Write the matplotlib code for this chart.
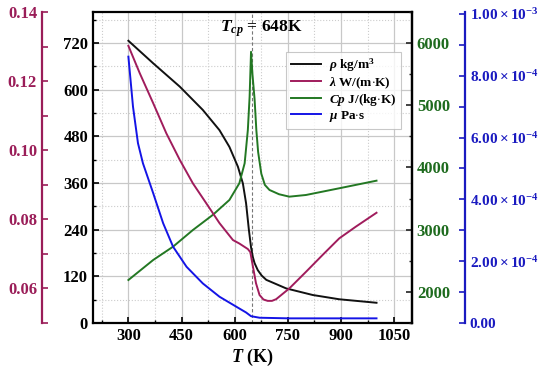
import math
import matplotlib
matplotlib.use("Agg")
import matplotlib.pyplot as plt
from matplotlib.ticker import MultipleLocator, FuncFormatter, FormatStrFormatter

plt.rcParams['font.family'] = ['Liberation Serif', 'DejaVu Serif']
plt.rcParams['font.weight'] = 'bold'
plt.rcParams['mathtext.fontset'] = 'custom'
plt.rcParams['mathtext.rm'] = 'Liberation Serif:bold'
plt.rcParams['mathtext.it'] = 'Liberation Serif:italic:bold'
plt.rcParams['mathtext.bf'] = 'Liberation Serif:bold'

# ---- data ----
T_rho = [300, 370, 445, 510, 557, 585, 609, 623, 632, 640, 646, 651, 656, 665, 676, 689, 745, 820, 895, 1000]
rho = [726, 668, 608, 548, 496, 453, 402, 359, 308, 239, 195, 170, 154, 136, 122, 111, 89, 72, 61, 52]

T_lam = [300, 332, 370, 407, 445, 482, 520, 557, 595, 613, 637, 644, 651, 660, 670, 681, 693, 705, 717,
         754, 801, 848, 895, 942, 1000]
lam = [0.1302, 0.1223, 0.1136, 0.1049, 0.0972, 0.0904, 0.0846, 0.0789, 0.0740, 0.0730, 0.0714,
       0.0705, 0.0665, 0.0615, 0.0581, 0.0568, 0.0564, 0.0564, 0.0569, 0.0600, 0.0648, 0.0697,
       0.0745, 0.0779, 0.0819]

T_cp = [300, 370, 426, 482, 538, 585, 613, 628, 637, 642, 646, 650, 656, 661, 666, 675, 685, 698,
        725, 754, 801, 895, 1000]
Cp = [2191, 2513, 2727, 2995, 3237, 3478, 3746, 4068, 4603, 5139, 5860, 5500, 5100, 4600, 4250,
      3900, 3720, 3639, 3570, 3531, 3558, 3666, 3788]

T_mu = [300, 313, 327, 341, 370, 398, 426, 464, 510, 557, 604, 632, 646, 670, 754, 1000]
mu = [8.62e-4, 7.0e-4, 5.82e-4, 5.17e-4, 4.2e-4, 3.23e-4, 2.47e-4, 1.82e-4, 1.28e-4, 0.85e-4,
      0.53e-4, 0.34e-4, 0.22e-4, 0.17e-4, 0.15e-4, 0.15e-4]

T_cp_crit = 648
labels = [r'$\rho$ kg/m$^3$', r'$\lambda$ W/(m$\cdot$K)', r'$Cp$ J/(kg$\cdot$K)', r'$\mu$ Pa$\cdot$s']

c_rho = '#111111'
c_lam = '#A01C5C'
c_cp = '#237823'
c_mu = '#1414E6'
c_lam_t = '#9A1D58'
c_cp_t = '#1E6B1E'
c_mu_t = '#1A1AC0'

fig = plt.figure(figsize=(5.5, 3.75), dpi=100)
ax = fig.add_axes([0.169, 0.1387, 0.58, 0.8293])
ax_cp = ax.twinx()
ax_lam = ax.twinx()
ax_mu = ax.twinx()

# main axes (rho)
ax.set_xlim(200, 1100)
ax.set_ylim(0, 800)
ax.xaxis.set_major_locator(MultipleLocator(150))
ax.xaxis.set_minor_locator(MultipleLocator(75))
ax.yaxis.set_major_locator(MultipleLocator(120))
ax.yaxis.set_minor_locator(MultipleLocator(60))
ax.grid(which='major', color='#c8c8c8', lw=0.9)
ax.grid(which='minor', color='#cccccc', lw=0.8, ls=':')
ax.set_axisbelow(True)
ax.tick_params(which='both', direction='in', top=False, right=False, labelsize=12)
ax.tick_params(which='major', length=4, width=1.2)
ax.tick_params(which='minor', length=2.5, width=1)
for s in ax.spines.values():
    s.set_linewidth(1.6)
ax.set_xlabel(r'$T$ (K)', fontsize=13, fontweight='bold', labelpad=2)

ax.axvline(T_cp_crit, color='#777777', ls='--', lw=0.8, dashes=(3, 2))
ax.text(674, 756, r'$T_{cp}$ = 648K', ha='center', va='center', fontsize=12.5, fontweight='bold')

l1, = ax.plot(T_rho, rho, color=c_rho, lw=1.4)

# Cp axis (inner right)
ax_cp.set_ylim(1500, 6500)
ax_cp.yaxis.set_major_locator(MultipleLocator(1000))
ax_cp.yaxis.set_minor_locator(MultipleLocator(500))
ax_cp.tick_params(which='both', direction='in', colors=c_cp_t, labelsize=12)
ax_cp.tick_params(which='major', length=4, width=1.2, color='#222222')
ax_cp.tick_params(which='minor', length=2.5, width=1, color='#222222')
for side in ['top', 'bottom', 'left']:
    ax_cp.spines[side].set_visible(False)
ax_cp.spines['right'].set_linewidth(1.6)
l3, = ax_cp.plot(T_cp, Cp, color=c_cp, lw=1.4)

# lambda axis (outer left)
ax_lam.set_ylim(0.05, 0.14)
ax_lam.spines['left'].set_position(('outward', 36.7))
ax_lam.spines['left'].set_color(c_lam_t)
ax_lam.spines['left'].set_linewidth(1.6)
for side in ['top', 'bottom', 'right']:
    ax_lam.spines[side].set_visible(False)
ax_lam.yaxis.set_ticks_position('left')
ax_lam.yaxis.set_label_position('left')
ax_lam.set_yticks([0.06, 0.08, 0.10, 0.12, 0.14])
ax_lam.yaxis.set_minor_locator(MultipleLocator(0.01))
ax_lam.yaxis.set_major_formatter(FormatStrFormatter('%.2f'))
ax_lam.tick_params(which='both', direction='in', colors=c_lam_t, labelsize=12)
ax_lam.tick_params(which='major', length=4, width=1.2)
ax_lam.tick_params(which='minor', length=4, width=1.2)
l2, = ax_lam.plot(T_lam, lam, color=c_lam, lw=1.4)

# mu axis (outer right)
ax_mu.set_ylim(0, 1.0065e-3)
ax_mu.spines['right'].set_position(('outward', 38))
ax_mu.spines['right'].set_color(c_mu_t)
ax_mu.spines['right'].set_linewidth(1.6)
for side in ['top', 'bottom', 'left']:
    ax_mu.spines[side].set_visible(False)
ax_mu.set_yticks([0, 2e-4, 4e-4, 6e-4, 8e-4, 1e-3])
ax_mu.yaxis.set_minor_locator(MultipleLocator(1e-4))


def mu_fmt(v, pos):
    if abs(v) < 1e-12:
        return '0.00'
    e = int(math.floor(math.log10(abs(v)) + 1e-9))
    m = v / 10 ** e
    return r'$%.2f\times10^{%d}$' % (m, e)


ax_mu.yaxis.set_major_formatter(FuncFormatter(mu_fmt))
ax_mu.tick_params(which='both', direction='in', colors=c_mu_t, labelsize=11)
ax_mu.tick_params(which='major', length=4, width=1.2)
ax_mu.tick_params(which='minor', length=4, width=1.2)
l4, = ax_mu.plot(T_mu, mu, color=c_mu, lw=1.4)

leg = ax_mu.legend([l1, l2, l3, l4], labels, loc='upper right', bbox_to_anchor=(0.965, 0.871),
                   borderaxespad=0, fontsize=9.5, frameon=True, fancybox=False, edgecolor='#bbbbbb',
                   handlelength=2.3, borderpad=0.35, labelspacing=0.08, handletextpad=0.6)
leg.get_frame().set_linewidth(0.8)
for t in leg.get_texts():
    t.set_fontweight('bold')

fig.savefig('out.png', dpi=100)
